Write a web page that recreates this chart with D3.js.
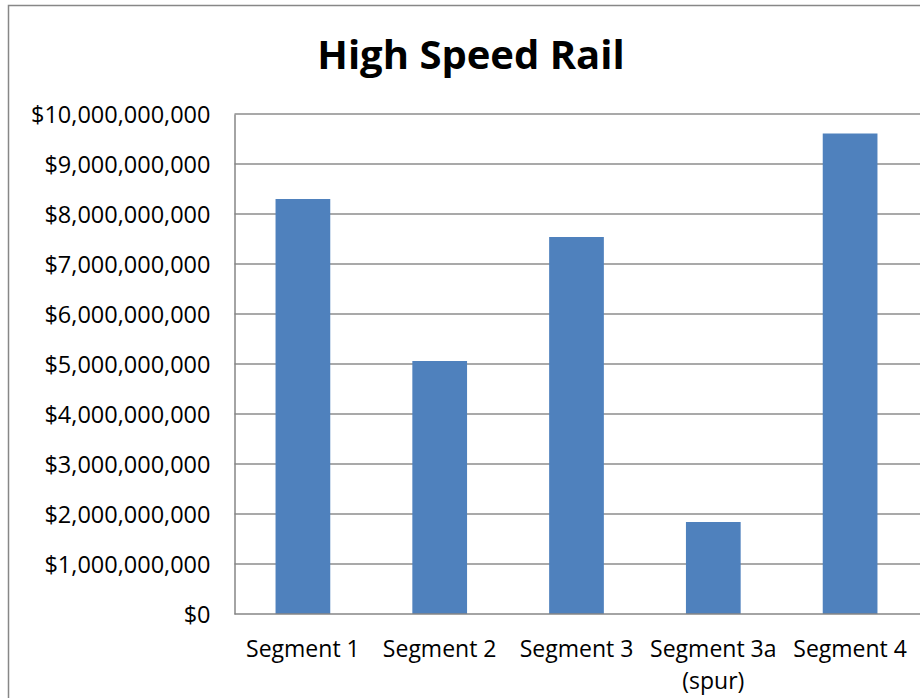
<!DOCTYPE html>
<html>
<head>
<meta charset="utf-8">
<script src="https://cdn.jsdelivr.net/npm/d3@7"></script>
<style>
  body { margin: 0; background: #fff; }
  text { font-family: "Open Sans", "Noto Sans", sans-serif; fill: #000; }
</style>
</head>
<body>
<svg width="920" height="698"></svg>
<script>
var segments = ["Segment 1", "Segment 2", "Segment 3", "Segment 3a (spur)", "Segment 4"];
var costs = [8300000000, 5060000000, 7540000000, 1840000000, 9610000000];
var yTicks = [0, 1e9, 2e9, 3e9, 4e9, 5e9, 6e9, 7e9, 8e9, 9e9, 1e10];

var svg = d3.select("svg"),
    width = +svg.attr("width"),
    height = +svg.attr("height");

var margin = {top: 114, left: 234.5, bottom: 84, right: 1.5};

// outer chart border (cropped on the right and bottom)
svg.append("rect")
    .attr("x", 8.5).attr("y", 5.5)
    .attr("width", 1000).attr("height", 1000)
    .attr("fill", "none")
    .attr("stroke", "#878787")
    .attr("stroke-width", 1.5);

svg.append("text")
    .attr("x", 471).attr("y", 69)
    .attr("text-anchor", "middle")
    .style("font-size", "40px")
    .style("font-weight", "bold")
    .text("High Speed Rail");

var x = d3.scaleBand()
    .domain(segments)
    .range([margin.left, width - margin.right])
    .paddingInner(0.6)
    .paddingOuter(0.3);

var y = d3.scaleLinear()
    .domain([0, 1e10])
    .range([height - margin.bottom, margin.top]);

var fmt = function(d) { return "$" + d3.format(",")(d); };

// gridlines
svg.append("g")
    .attr("class", "grid")
    .selectAll("line")
    .data(yTicks.slice(1))
    .enter().append("line")
        .attr("x1", margin.left)
        .attr("x2", width)
        .attr("y1", function(d) { return y(d); })
        .attr("y2", function(d) { return y(d); })
        .style("stroke", "#8c8c8c")
        .style("stroke-width", 1.5);

// y axis
var yAxis = svg.append("g")
    .attr("transform", "translate(" + margin.left + ",0)")
    .call(d3.axisLeft(y).tickValues(yTicks).tickFormat(fmt).tickSize(0).tickPadding(24));
yAxis.select(".domain").style("stroke", "#868686").style("stroke-width", 1.5);
yAxis.selectAll("text").style("font-size", "23.5px").attr("dy", "0.35em");

// bars
svg.append("g")
    .selectAll("rect")
    .data(costs)
    .enter().append("rect")
        .attr("x", function(d, i) { return x(segments[i]); })
        .attr("y", function(d) { return y(d); })
        .attr("width", x.bandwidth())
        .attr("height", function(d) { return y(0) - y(d); })
        .attr("fill", "#4f81bd");

// x axis line
svg.append("line")
    .attr("x1", margin.left).attr("x2", width)
    .attr("y1", y(0)).attr("y2", y(0))
    .style("stroke", "#868686")
    .style("stroke-width", 1.5);

// category labels
var labels = svg.append("g")
    .selectAll("text")
    .data(segments)
    .enter().append("text")
        .attr("text-anchor", "middle")
        .attr("x", function(d) { return x(d) + x.bandwidth() / 2; })
        .attr("y", 657)
        .style("font-size", "23px");

labels.each(function(d) {
    var parts = d.indexOf(" (") > 0 ? [d.slice(0, d.indexOf(" (")), d.slice(d.indexOf(" (") + 1)] : [d];
    var t = d3.select(this);
    parts.forEach(function(p, i) {
        t.append("tspan")
            .attr("x", t.attr("x"))
            .attr("dy", i === 0 ? 0 : 32)
            .text(p);
    });
});
</script>
</body>
</html>
